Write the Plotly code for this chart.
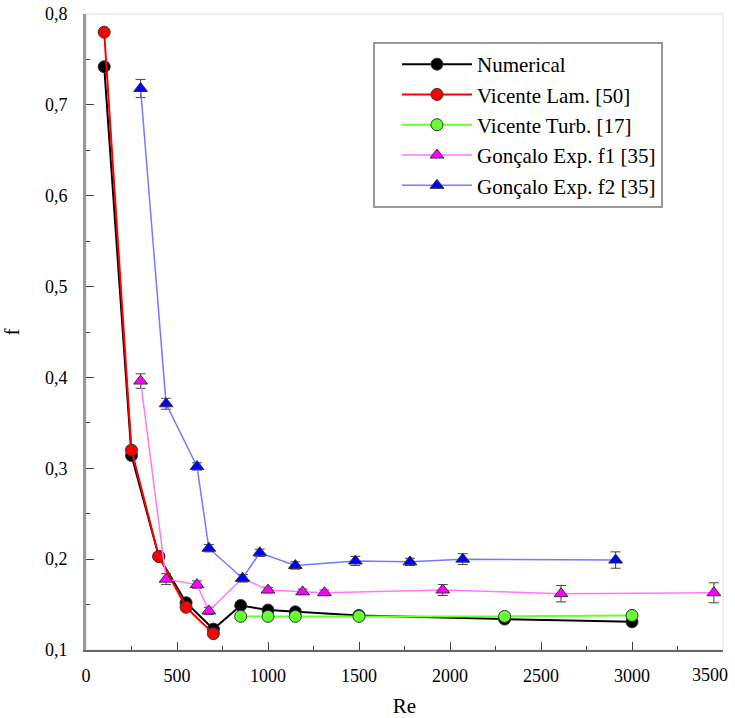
import plotly.graph_objects as go

# ---- data ----
num_re = [100, 250, 400, 550, 700, 850, 1000, 1150, 1500, 2300, 3000]
num_f = [0.742, 0.314, 0.203, 0.152, 0.123, 0.149, 0.144, 0.142, 0.138, 0.134, 0.131]

lam_re = [100, 250, 400, 550, 700]
lam_f = [0.780, 0.320, 0.203, 0.147, 0.118]

turb_re = [850, 1000, 1150, 1500, 2300, 3000]
turb_f = [0.137, 0.137, 0.137, 0.137, 0.137, 0.138]

f1_re = [300, 440, 610, 675, 860, 1000, 1190, 1310, 1960, 2610, 3450]
f1_f = [0.396, 0.178, 0.172, 0.143, 0.179, 0.166, 0.164, 0.163, 0.166, 0.162, 0.163]
f1_err = [0.008, 0.006, 0.004, 0.004, 0.004, 0.003, 0.003, 0.003, 0.006, 0.009, 0.011]

f2_re = [300, 440, 610, 675, 860, 955, 1150, 1480, 1780, 2070, 2910]
f2_f = [0.718, 0.371, 0.302, 0.212, 0.179, 0.207, 0.193, 0.198, 0.197, 0.200, 0.199]
f2_err = [0.010, 0.006, 0.004, 0.004, 0.004, 0.004, 0.004, 0.005, 0.004, 0.006, 0.009]

x_ticks = [0, 500, 1000, 1500, 2000, 2500, 3000, 3500]
x_ticktext = ["0", "500", "1000", "1500", "2000", "2500", "3000", ""]
x_last_label = "3500"
y_ticks = [0.1, 0.2, 0.3, 0.4, 0.5, 0.6, 0.7, 0.8]

FONT = "Times New Roman, Liberation Serif, serif"
OUTLINE = dict(color="#333333", width=1)

fig = go.Figure()

fig.add_trace(go.Scatter(
    x=num_re, y=num_f, name="Numerical", mode="lines+markers",
    line=dict(color="black", width=2),
    marker=dict(symbol="circle", size=12, color="black", line=OUTLINE),
))
fig.add_trace(go.Scatter(
    x=lam_re, y=lam_f, name="Vicente Lam. [50]", mode="lines+markers",
    line=dict(color="#ff0000", width=2),
    marker=dict(symbol="circle", size=12, color="#ff0000", line=OUTLINE),
))
fig.add_trace(go.Scatter(
    x=turb_re, y=turb_f, name="Vicente Turb. [17]", mode="lines+markers",
    line=dict(color="#66ff33", width=2),
    marker=dict(symbol="circle", size=12, color="#66ff33", line=OUTLINE),
))
fig.add_trace(go.Scatter(
    x=f1_re, y=f1_f, name="Gonçalo Exp. f1 [35]", mode="lines+markers",
    line=dict(color="#ff77ff", width=1.5),
    marker=dict(symbol="triangle-up", size=12, color="#ff00ff", line=OUTLINE),
    error_y=dict(type="data", array=f1_err, visible=True, color="#444444", thickness=1, width=5),
))
fig.add_trace(go.Scatter(
    x=f2_re, y=f2_f, name="Gonçalo Exp. f2 [35]", mode="lines+markers",
    line=dict(color="#7777ff", width=1.5),
    marker=dict(symbol="triangle-up", size=12, color="#0000ff", line=OUTLINE),
    error_y=dict(type="data", array=f2_err, visible=True, color="#444444", thickness=1, width=5),
))

fig.update_layout(
    width=735, height=718,
    margin=dict(l=86, r=12, t=14, b=68),
    paper_bgcolor="white", plot_bgcolor="white",
    separators=",.",
    font=dict(family=FONT, size=18, color="black"),
    showlegend=True,
    legend=dict(
        x=0.4505, y=0.956, xanchor="left", yanchor="top",
        bgcolor="white", bordercolor="#999999", borderwidth=2,
        font=dict(family=FONT, size=21, color="black"),
        tracegroupgap=0, indentation=22, itemwidth=70,
    ),
    shapes=[dict(type="rect", xref="paper", yref="paper", x0=0, y0=0, x1=1, y1=1,
                 line=dict(color="#dddddd", width=1), layer="below")],
    annotations=[dict(
        text=x_last_label, x=x_ticks[-1], xref="x", y=0, yref="paper",
        xanchor="right", yanchor="middle", xshift=7, yshift=-25, showarrow=False,
        font=dict(family=FONT, size=18, color="black"),
    )],
)

fig.update_xaxes(
    range=[0, 3500], tickvals=x_ticks, ticktext=x_ticktext,
    showgrid=False, zeroline=False, automargin=False,
    showline=True, linecolor="#666666", linewidth=2,
    ticks="inside", ticklen=8, tickcolor="#444444", tickwidth=1,
    minor=dict(ticks="inside", ticklen=4, dtick=250, tickcolor="#444444", showgrid=False),
    title=dict(text="Re", font=dict(family=FONT, size=21), standoff=20),
    tickfont=dict(family=FONT, size=18), ticklabelstandoff=8,
)
fig.update_yaxes(
    range=[0.1, 0.8], tickvals=y_ticks, tickformat=".1f", showgrid=False, zeroline=False,
    automargin=False,
    showline=True, linecolor="#999999", linewidth=3,
    ticks="inside", ticklen=8, tickcolor="#444444", tickwidth=1,
    minor=dict(ticks="inside", ticklen=4, dtick=0.05, tickcolor="#444444", showgrid=False),
    title=dict(text="f", font=dict(family=FONT, size=21), standoff=22),
    tickfont=dict(family=FONT, size=18), ticklabelstandoff=12,
)

fig.write_html("out.html")
